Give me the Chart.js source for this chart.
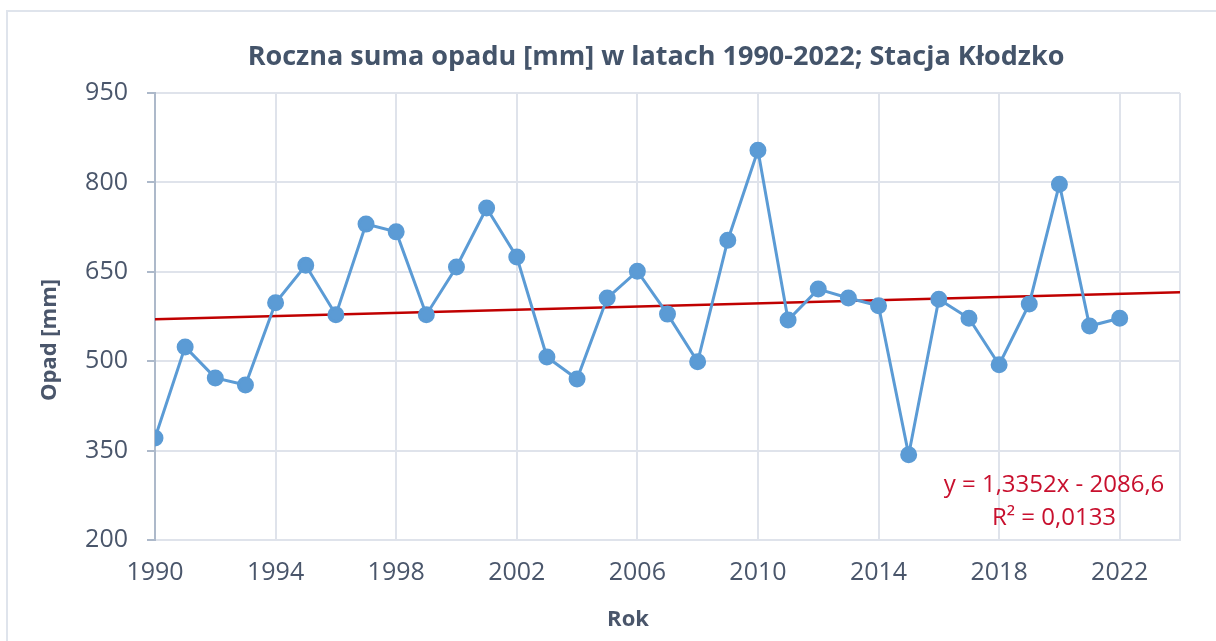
<!DOCTYPE html>
<html>
<head>
<meta charset="utf-8">
<script src="https://cdn.jsdelivr.net/npm/chart.js@4"></script>
<style>
  body { margin: 0; background: #fff; }
  #wrap { position: relative; width: 1216px; height: 641px; overflow: hidden; }
  #frame { position: absolute; left: 6px; top: 10px; width: 1260px; height: 700px; border: 2px solid #dfe4ec; box-sizing: border-box; }
  canvas { position: absolute; left: 0; top: 0; }
</style>
</head>
<body>
<div id="wrap">
  <div id="frame"></div>
  <canvas id="opadChart" width="1216" height="641"></canvas>
</div>
<script>
// dane
const years = [1990, 1991, 1992, 1993, 1994, 1995, 1996, 1997, 1998, 1999, 2000,
  2001, 2002, 2003, 2004, 2005, 2006, 2007, 2008, 2009, 2010, 2011,
  2012, 2013, 2014, 2015, 2016, 2017, 2018, 2019, 2020, 2021, 2022];
const opad = [371, 524, 472, 460, 598, 661, 578, 730, 717, 578, 658,
  757, 675, 507, 470, 606, 651, 579, 499, 703, 854, 569,
  621, 606, 593, 343, 604, 572, 494, 596, 797, 559, 572];
const trendYears = [1990, 2024];
const trendValues = [570.4, 615.8];
const yearTicks = [1990, 1994, 1998, 2002, 2006, 2010, 2014, 2018, 2022, 2024];
const trendText = ['y = 1,3352x - 2086,6', 'R² = 0,0133'];
const titleText = 'Roczna suma opadu [mm] w latach 1990-2022; Stacja Kłodzko';
const xTitle = 'Rok';
const yTitle = 'Opad [mm]';

const textColor = '#4a566b';
const gridColor = '#dfe3eb';

// tytuły i opis linii trendu rysowane recznie, zeby trafic w pozycje z Excela
const labels = {
    id: 'labels',
    afterDatasetsDraw(chart) {
        const a = chart.chartArea;
        const c = chart.ctx;
        c.save();
        c.textAlign = 'center';
        c.textBaseline = 'middle';

        c.font = 'bold 27px "Open Sans"';
        c.fillStyle = '#44546a';
        c.fillText(titleText, 656, 57);

        c.font = 'bold 22px "Open Sans"';
        c.fillStyle = textColor;
        c.fillText(xTitle, 628, a.bottom + 80);
        c.save();
        c.translate(50, a.top + 247);
        c.rotate(-Math.PI / 2);
        c.fillText(yTitle, 0, 0);
        c.restore();

        c.font = '24px "Open Sans"';
        c.fillStyle = '#c8102e';
        c.fillText(trendText[0], a.right - 126, a.bottom - 55);
        c.fillText(trendText[1], a.right - 126, a.bottom - 22);
        c.restore();
    }
};

const ctx = document.getElementById('opadChart').getContext('2d');
const chart = new Chart(ctx, {
    type: 'line',
    data: {
        datasets: [
            {
                label: 'Opad',
                data: years.map((y, i) => ({ x: y, y: opad[i] })),
                borderColor: '#5b9bd5',
                backgroundColor: '#5b9bd5',
                borderWidth: 3,
                pointRadius: 7,
                pointHoverRadius: 7,
                tension: 0
            },
            {
                label: 'Trend',
                data: trendYears.map((y, i) => ({ x: y, y: trendValues[i] })),
                borderColor: '#c00000',
                borderWidth: 2.5,
                pointRadius: 0,
                tension: 0
            }
        ]
    },
    options: {
        responsive: false,
        animation: false,
        layout: { padding: { left: 0, right: 36, top: 93, bottom: 0 } },
        plugins: {
            legend: { display: false },
            tooltip: { enabled: false }
        },
        scales: {
            x: {
                type: 'linear',
                min: 1990,
                max: 2024,
                afterBuildTicks: s => { s.ticks = yearTicks.map(v => ({ value: v })); },
                afterFit: s => { s.height = 101; },
                ticks: {
                    color: textColor,
                    font: { family: 'Open Sans', size: 25 },
                    padding: 18,
                    maxRotation: 0,
                    autoSkip: false,
                    callback: v => (v === 2024 ? '' : String(v))
                },
                grid: { color: gridColor, lineWidth: 2, drawTicks: false },
                border: { color: gridColor, width: 2 }
            },
            y: {
                min: 200,
                max: 950,
                afterFit: s => { s.width = 155; },
                ticks: {
                    stepSize: 150,
                    color: textColor,
                    font: { family: 'Open Sans', size: 25 },
                    padding: 19
                },
                grid: { color: gridColor, lineWidth: 2, tickLength: 8, tickColor: '#adb9ca' },
                border: { color: '#adb9ca', width: 2 }
            }
        }
    },
    plugins: [labels]
});
</script>
</body>
</html>
